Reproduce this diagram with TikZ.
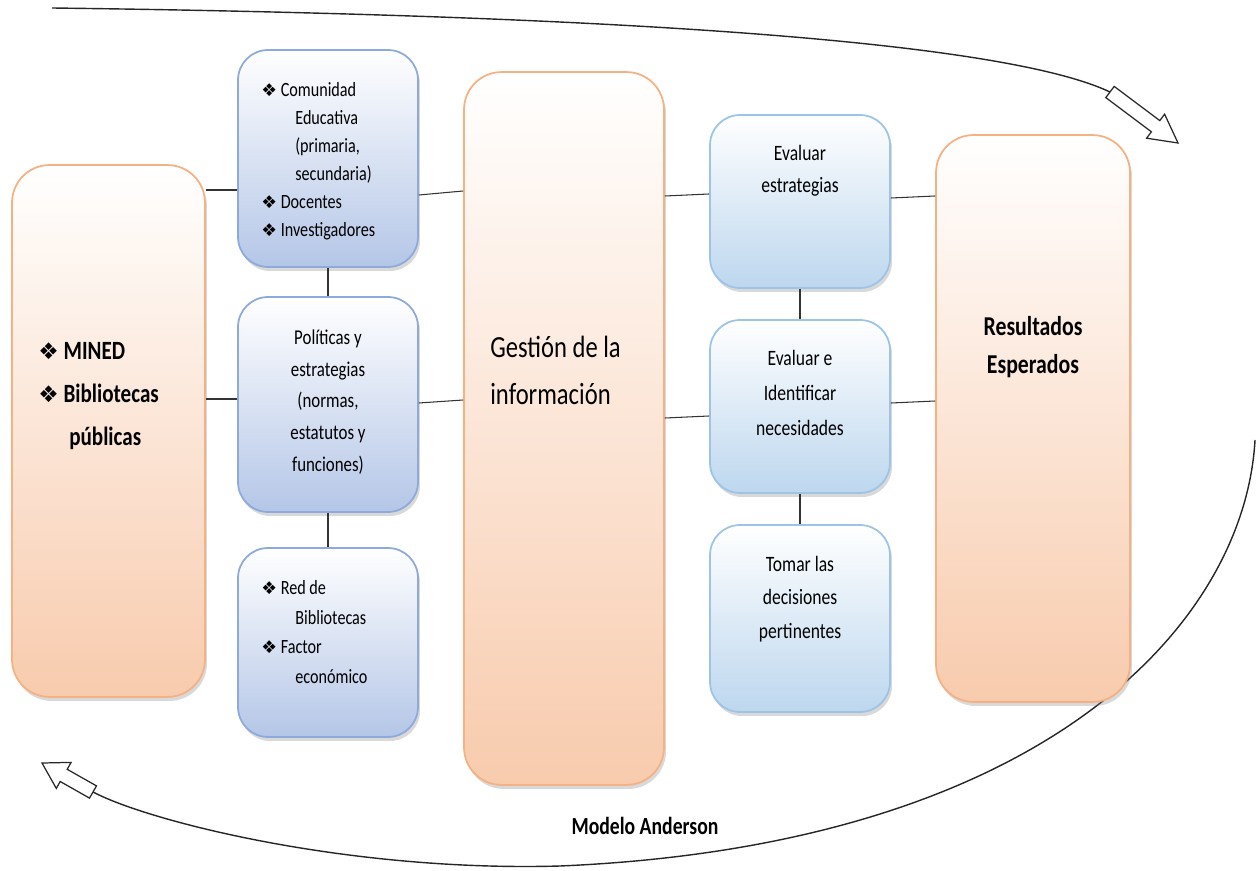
\documentclass[tikz,border=0pt]{standalone}
\usepackage{fontspec}
\setmainfont{Carlito}[FakeStretch=0.8]
\newfontfamily\symfont{DejaVu Sans}
\usepackage{xcolor}
\usetikzlibrary{shadows}
\definecolor{peach}{HTML}{F8CBAD}
\definecolor{peachline}{HTML}{F4B183}
\definecolor{lavender}{HTML}{B4C6E7}
\definecolor{lavline}{HTML}{8EA9DB}
\definecolor{sky}{HTML}{BDD7EE}
\definecolor{skyline}{HTML}{9DC3E6}
\tikzstyle{panel}=[rounded corners=0.6cm, line width=1pt, inner sep=0pt, drop shadow={shadow xshift=0.04cm, shadow yshift=-0.08cm, opacity=0.3, fill=black!50}]
\tikzstyle{orangebox}=[panel, draw=peachline, top color=white, bottom color=peach, rounded corners=0.75cm]
\tikzstyle{lavbox}=[panel, draw=lavline, top color=white, bottom color=lavender, minimum width=3.6cm]
\tikzstyle{skybox}=[panel, draw=skyline, top color=white, bottom color=sky, minimum width=3.6cm]
\tikzstyle{txt}=[inner sep=0pt, align=center, text=black]
\tikzstyle{link}=[draw=black!80, line width=0.6pt]
\tikzstyle{curve}=[draw=black!85, line width=0.8pt]
\tikzstyle{blockarrow}=[draw=black!85, line width=0.7pt, fill=white, line join=miter]
\newcommand{\bul}[1]{{\symfont\fontsize{#1}{#1}\selectfont ❖}\ }

\begin{document}
\begin{tikzpicture}[x=0.02cm, y=-0.02cm]
\useasboundingbox (0,0) rectangle (1257,871);
% cycle around the model
\coordinate (topstart) at (52,8);
\coordinate (topend) at (1110,92);
\coordinate (botstart) at (1255,440);
\coordinate (botend) at (93,792);
\draw[curve] (topstart) .. controls (600,15) and (1000,40) .. (topend);
\draw[blockarrow] (1105.8,97.6) -- (1114.2,86.4) -- (1159.8,120.6) -- (1164.6,114.2) -- (1178,143) -- (1146.6,138.2) -- (1151.4,131.8) -- cycle;
\draw[curve] (botstart) .. controls (1245,620) and (1050,845) .. (560,866) .. controls (350,872) and (150,822) .. (botend);
\draw[blockarrow] (96.5,785.9) -- (67.2,769.3) -- (71.1,762.4) -- (42,763) -- (56.3,788.4) -- (60.2,781.5) -- (89.5,798.1) -- cycle;

% boxes
\node[orangebox, minimum width=3.86cm, minimum height=10.64cm] (mined) at (108.5,431) {};
\node[lavbox, minimum height=4.34cm] (com) at (328,158.5) {};
\node[lavbox, minimum height=4.3cm] (pol) at (328,404.5) {};
\node[lavbox, minimum height=3.78cm] (red) at (328,642.5) {};
\node[orangebox, minimum width=4cm, minimum height=14.26cm] (ges) at (564,428.5) {};
\node[skybox, minimum height=3.46cm] (ev1) at (800,201.5) {};
\node[skybox, minimum height=3.46cm] (ev2) at (800,406.5) {};
\node[skybox, minimum height=3.74cm] (tom) at (800,618.5) {};
\node[orangebox, minimum width=3.88cm, minimum height=11.34cm] (res) at (1033,418.5) {};

% texts
\node[txt, align=left, anchor=west, font=\bfseries\fontsize{15}{24.4}\selectfont] (t-mined) at (38,396)
  {\bul{13}MINED\\\bul{13}Bibliotecas\\\hspace*{0.62cm}públicas};
\node[txt, align=left, anchor=west, font=\fontsize{11.5}{15.9}\selectfont] (t-com) at (261,161)
  {\bul{10}Comunidad\\\hspace*{0.68cm}Educativa\\\hspace*{0.68cm}(primaria,\\\hspace*{0.68cm}secundaria)\\\bul{10}Docentes\\\bul{10}Investigadores};
\node[txt, font=\fontsize{12}{18.1}\selectfont] (t-pol) at (328,402)
  {Políticas y\\estrategias\\(normas,\\estatutos y\\funciones)};
\node[txt, align=left, anchor=west, font=\fontsize{11.5}{17}\selectfont] (t-red) at (261,632)
  {\bul{10}Red de\\\hspace*{0.68cm}Bibliotecas\\\bul{10}Factor\\\hspace*{0.68cm}económico};
\node[txt, align=left, anchor=west, font=\fontsize{17.5}{26.7}\selectfont] (t-ges) at (490,370)
  {Gestión de la\\información};
\node[txt, font=\fontsize{12.5}{18.1}\selectfont] (t-ev1) at (800,171) {Evaluar\\estrategias};
\node[txt, font=\fontsize{12.5}{19.8}\selectfont] (t-ev2) at (800,393) {Evaluar e\\Identificar\\necesidades};
\node[txt, font=\fontsize{12.5}{19}\selectfont] (t-tom) at (800,599) {Tomar las\\decisiones\\pertinentes};
\node[txt, font=\bfseries\fontsize{15.5}{22.1}\selectfont] (t-res) at (1033,347) {Resultados\\Esperados};
\node[txt, font=\bfseries\fontsize{14}{16}\selectfont] (t-mod) at (645,826) {Modelo Anderson};

% connectors
\draw[link] (mined.east |- 0,190) -- (com.west |- 0,190);
\draw[link] (mined.east |- 0,399) -- (pol.west |- 0,399);
\draw[link] (com.south) -- (pol.north);
\draw[link] (pol.south) -- (red.north);
\draw[link] (com.east |- 0,195) -- (ges.west |- 0,191);
\draw[link] (pol.east |- 0,403) -- (ges.west |- 0,400);
\draw[link] (ges.east |- 0,196) -- (ev1.west |- 0,194);
\draw[link] (ges.east |- 0,418) -- (ev2.west |- 0,416);
\draw[link] (ev1.south) -- (ev2.north);
\draw[link] (ev2.south) -- (tom.north);
\draw[link] (ev1.east |- 0,198) -- (res.west |- 0,196);
\draw[link] (ev2.east |- 0,403) -- (res.west |- 0,401);
\end{tikzpicture}
\end{document}
